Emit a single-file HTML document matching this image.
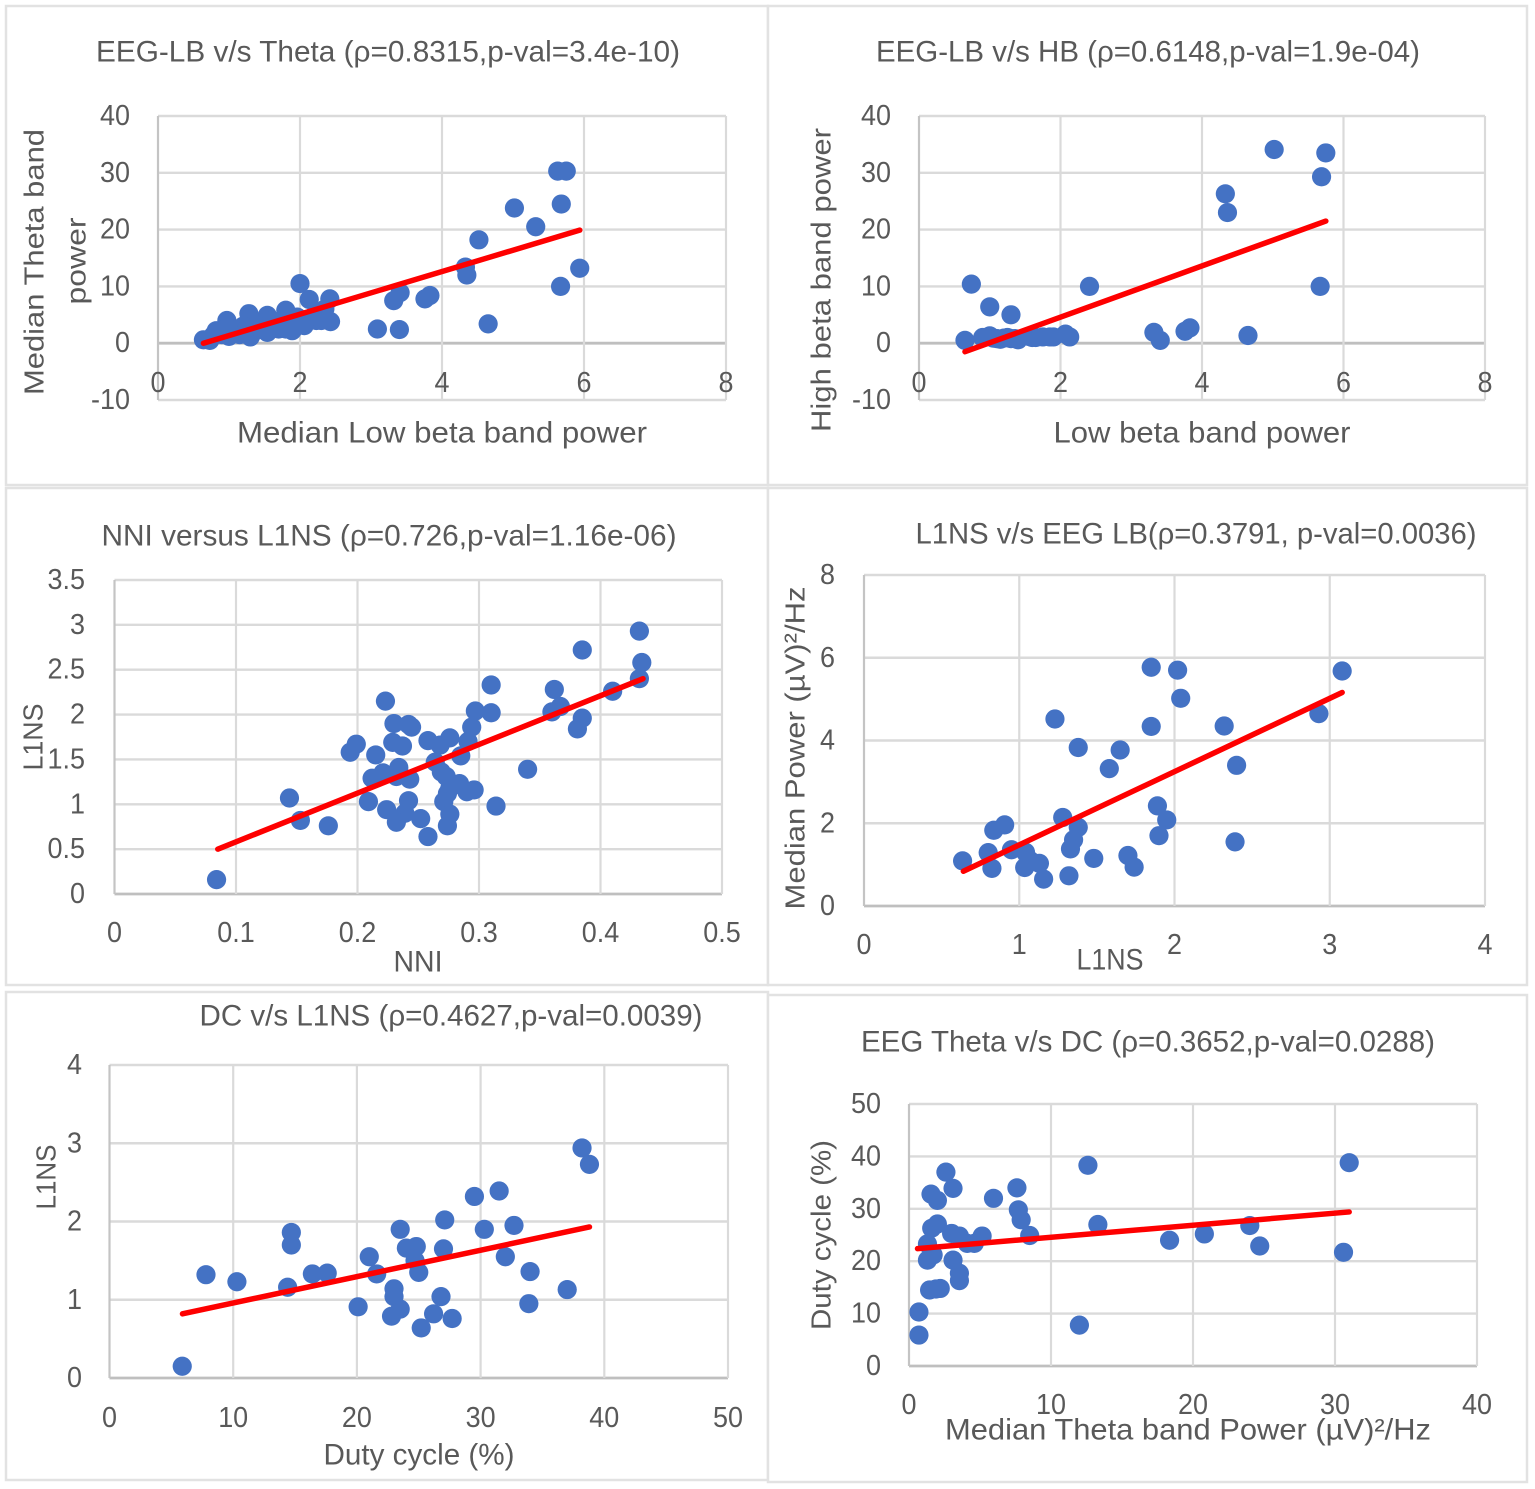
<!DOCTYPE html>
<html lang="en">
<head>
<meta charset="utf-8">
<title>EEG and L1NS correlation scatter charts</title>
<style>
html,body{margin:0;padding:0;background:#fff;width:1535px;height:1489px;overflow:hidden}
svg{display:block}
text{font-family:"Liberation Sans",sans-serif;fill:#595959}
.title{font-size:30px;text-anchor:middle;dominant-baseline:central}
.axt{font-size:30px;text-anchor:middle;dominant-baseline:central}
.axr{font-size:28px;text-anchor:middle;dominant-baseline:central}
.frame{fill:#fff;stroke:#e2e2e2;stroke-width:2.5}
.tick{font-size:29px;dominant-baseline:central}
</style>
</head>
<body>
<svg id="figure" width="1535" height="1489" viewBox="0 0 1535 1489" xmlns="http://www.w3.org/2000/svg">
  <g id="chart1">
    <rect class="frame" x="6" y="6" width="762" height="479"/>
    <text class="title" x="388" y="52" textLength="584" lengthAdjust="spacingAndGlyphs">EEG-LB v/s Theta (ρ=0.8315,p-val=3.4e-10)</text>
    <text class="axt" x="442" y="433" textLength="410" lengthAdjust="spacingAndGlyphs">Median Low beta band power</text>
    <text class="axr" transform="translate(34,262) rotate(-90)" textLength="266" lengthAdjust="spacingAndGlyphs">Median Theta band</text>
    <text class="axr" transform="translate(76,261) rotate(-90)" textLength="87" lengthAdjust="spacingAndGlyphs">power</text>
  </g>
  <g id="chart2">
    <rect class="frame" x="768" y="6" width="759" height="479"/>
    <text class="title" x="1148" y="52" textLength="544" lengthAdjust="spacingAndGlyphs">EEG-LB v/s HB (ρ=0.6148,p-val=1.9e-04)</text>
    <text class="axt" x="1202" y="433" textLength="297" lengthAdjust="spacingAndGlyphs">Low beta band power</text>
    <text class="axr" transform="translate(821,280) rotate(-90)" textLength="304" lengthAdjust="spacingAndGlyphs">High beta band power</text>
  </g>
  <g id="chart3">
    <rect class="frame" x="6" y="488" width="762" height="497"/>
    <text class="title" x="389" y="536" textLength="575" lengthAdjust="spacingAndGlyphs">NNI versus L1NS (ρ=0.726,p-val=1.16e-06)</text>
    <text class="axt" x="418" y="962" textLength="49" lengthAdjust="spacingAndGlyphs">NNI</text>
    <text class="axr" transform="translate(33,737) rotate(-90)" textLength="67" lengthAdjust="spacingAndGlyphs">L1NS</text>
  </g>
  <g id="chart4">
    <rect class="frame" x="768" y="488" width="759" height="497"/>
    <text class="title" x="1196" y="534" textLength="561" lengthAdjust="spacingAndGlyphs">L1NS v/s EEG LB(ρ=0.3791, p-val=0.0036)</text>
    <text class="axt" x="1110" y="960" textLength="67" lengthAdjust="spacingAndGlyphs">L1NS</text>
    <text class="axr" transform="translate(795,748) rotate(-90)" textLength="323" lengthAdjust="spacingAndGlyphs">Median Power (µV)²/Hz</text>
  </g>
  <g id="chart5">
    <rect class="frame" x="6" y="992" width="762" height="488"/>
    <text class="title" x="451" y="1016" textLength="503" lengthAdjust="spacingAndGlyphs">DC v/s L1NS (ρ=0.4627,p-val=0.0039)</text>
    <text class="axt" x="419" y="1455" textLength="191" lengthAdjust="spacingAndGlyphs">Duty cycle (%)</text>
    <text class="axr" transform="translate(46,1177) rotate(-90)" textLength="65" lengthAdjust="spacingAndGlyphs">L1NS</text>
  </g>
  <g id="chart6">
    <rect class="frame" x="768" y="995" width="759" height="487"/>
    <text class="title" x="1148" y="1042" textLength="574" lengthAdjust="spacingAndGlyphs">EEG Theta v/s DC (ρ=0.3652,p-val=0.0288)</text>
    <text class="axt" x="1188" y="1430" textLength="486" lengthAdjust="spacingAndGlyphs">Median Theta band Power (µV)²/Hz</text>
    <text class="axr" transform="translate(821,1235) rotate(-90)" textLength="190" lengthAdjust="spacingAndGlyphs">Duty cycle (%)</text>
  </g>
</svg>
<script>
// Chart 1: EEG-LB v/s Theta
const chart1X = [5.63,5.75,5.68,5.02,5.32,4.52,4.33,4.35,5.94,5.67,4.65,3.4,3.09,3.32,3.41,3.76,3.83,2.0,2.13,2.42,2.43,2.23,2.06,1.89,1.8,1.96,1.54,1.54,1.28,1.3,0.97,0.82,0.64,0.73,1.0,1.1,1.2,1.4,1.5,1.65,1.75,1.85,1.9,2.1,1.15,0.9,1.35,1.6,1.7,0.78,0.95,2.3,2.3,2.2,2.35,1.45,1.25,1.55,1.8,2.0];
const chart1Y = [30.3,30.3,24.5,23.8,20.5,18.2,13.4,12,13.2,10,3.4,2.4,2.5,7.5,8.9,7.8,8.4,10.5,7.7,7.8,3.8,4,3.1,2.2,5.8,4.6,4.9,1.9,5.2,1.1,4,2.2,0.6,0.5,1.2,2.4,3,3.2,3.5,3,3.2,3.5,2.5,4,1.5,1.5,2,4,2.5,1.4,2.6,4,5.5,4.8,6,2.5,2.5,3,2.5,3.2];
const chart1TrendX = [0.64,5.94];
const chart1TrendY = [0,19.9];
const chart1XTicks = [0,2,4,6,8];
const chart1YTicks = [-10,0,10,20,30,40];

// Chart 2: EEG-LB v/s HB
const chart2X = [5.02,5.75,5.69,4.33,4.36,5.67,2.41,0.74,1.0,1.3,0.65,4.65,3.83,3.76,3.32,3.41,0.9,1.0,1.05,1.1,1.15,1.2,1.25,1.3,1.4,1.36,1.6,1.65,1.75,1.85,1.9,2.07,2.13,1.55];
const chart2Y = [34.1,33.5,29.3,26.3,23,10,10,10.4,6.4,5,0.5,1.35,2.7,2.1,1.9,0.5,1,1.3,0.9,0.8,0.7,0.9,1,0.8,0.6,0.8,1,1,1.1,1.1,1.1,1.6,1.1,1.2];
const chart2TrendX = [0.65,5.75];
const chart2TrendY = [-1.5,21.5];
const chart2XTicks = [0,2,4,6,8];
const chart2YTicks = [-10,0,10,20,30,40];

// Chart 3: NNI versus L1NS
const chart3X = [0.432,0.385,0.434,0.432,0.41,0.31,0.362,0.367,0.36,0.385,0.381,0.223,0.297,0.31,0.294,0.23,0.242,0.2445,0.229,0.237,0.258,0.276,0.291,0.199,0.194,0.215,0.285,0.268,0.264,0.234,0.221,0.212,0.232,0.243,0.269,0.273,0.284,0.29,0.296,0.276,0.274,0.314,0.34,0.144,0.153,0.176,0.209,0.224,0.242,0.239,0.232,0.252,0.258,0.271,0.276,0.274,0.084];
const chart3Y = [2.93,2.72,2.58,2.4,2.26,2.33,2.28,2.09,2.03,1.96,1.84,2.15,2.04,2.02,1.86,1.9,1.89,1.86,1.69,1.65,1.71,1.74,1.7,1.67,1.58,1.55,1.54,1.66,1.47,1.41,1.35,1.29,1.31,1.28,1.36,1.31,1.23,1.14,1.16,1.18,1.12,0.98,1.39,1.07,0.82,0.76,1.03,0.94,1.04,0.9,0.8,0.84,0.64,1.03,0.89,0.76,0.16];
const chart3TrendX = [0.085,0.435];
const chart3TrendY = [0.5,2.4];
const chart3XTicks = [0,0.1,0.2,0.3,0.4,0.5];
const chart3YTicks = [0,0.5,1,1.5,2,2.5,3,3.5];

// Chart 4: L1NS v/s EEG LB
const chart4X = [1.85,2.02,3.08,2.04,2.93,1.23,1.85,2.32,1.38,1.65,1.58,2.4,1.89,1.95,1.9,2.39,1.28,1.38,1.35,1.33,0.906,0.836,0.8,0.635,0.824,0.95,1.04,1.13,1.035,1.07,1.157,1.32,1.48,1.7,1.74];
const chart4Y = [5.77,5.7,5.68,5.02,4.65,4.52,4.34,4.35,3.83,3.77,3.32,3.4,2.42,2.08,1.7,1.55,2.14,1.9,1.6,1.38,1.96,1.83,1.29,1.09,0.91,1.36,1.3,1.03,0.93,1.1,0.65,0.73,1.15,1.22,0.94];
const chart4TrendX = [0.64,3.08];
const chart4TrendY = [0.84,5.16];
const chart4XTicks = [0,1,2,3,4];
const chart4YTicks = [0,2,4,6,8];

// Chart 5: DC v/s L1NS
const chart5X = [5.88,7.8,10.3,14.4,14.7,14.7,16.4,17.6,20.1,21,21.6,22.8,23,23,23.5,23.5,24,24.8,24.7,25,25.2,26.2,26.8,27,27.1,27.7,29.5,30.3,31.5,32,32.7,34,33.9,37,38.2,38.8];
const chart5Y = [0.15,1.32,1.23,1.16,1.86,1.7,1.33,1.34,0.91,1.55,1.33,0.79,1.14,1.04,0.88,1.9,1.66,1.68,1.5,1.35,0.64,0.82,1.04,1.65,2.02,0.76,2.32,1.9,2.39,1.55,1.95,1.36,0.95,1.13,2.94,2.73];
const chart5TrendX = [5.9,38.8];
const chart5TrendY = [0.82,1.93];
const chart5XTicks = [0,10,20,30,40,50];
const chart5YTicks = [0,1,2,3,4];

// Chart 6: EEG Theta v/s DC
const chart6X = [0.7,0.7,12,1.45,1.9,2.2,3.55,3.55,3.1,1.3,1.7,1.3,1.6,2,1.55,2,2.6,3.1,3,3.55,4.1,4.6,5.15,5.95,7.6,7.7,7.9,8.5,12.6,13.3,18.35,20.8,24,24.7,30.6,31];
const chart6Y = [5.9,10.3,7.8,14.5,14.7,14.8,16.3,17.7,20.2,20.2,21.2,23.3,26.3,27.1,32.8,31.6,37,33.9,25.3,24.8,23.4,23.4,24.8,32,34,29.8,27.9,24.9,38.3,27,24,25.2,26.8,22.9,21.7,38.8];
const chart6TrendX = [0.6,31];
const chart6TrendY = [22.4,29.4];
const chart6XTicks = [0,10,20,30,40];
const chart6YTicks = [0,10,20,30,40,50];

const NS = 'http://www.w3.org/2000/svg';

function make(tag, attrs, parent) {
  const el = document.createElementNS(NS, tag);
  for (const k in attrs) el.setAttribute(k, attrs[k]);
  parent.appendChild(el);
  return el;
}

function squeeze(label) {
  const width = label.getComputedTextLength();
  label.setAttribute('textLength', (width * 0.93).toFixed(1));
  label.setAttribute('lengthAdjust', 'spacingAndGlyphs');
}

function drawChart(id, xs, ys, trendX, trendY, xTicks, yTicks, box) {
  const root = document.getElementById(id);
  const xMin = xTicks[0], xMax = xTicks[xTicks.length - 1];
  const yMin = yTicks[0], yMax = yTicks[yTicks.length - 1];
  const sx = v => box.l + (v - xMin) / (xMax - xMin) * (box.r - box.l);
  const sy = v => box.b - (v - yMin) / (yMax - yMin) * (box.b - box.t);

  yTicks.forEach(v => {
    const grid = make('line', {x1: box.l, x2: box.r, y1: sy(v), y2: sy(v), stroke: v === 0 ? '#bfbfbf' : '#dadada', 'stroke-width': v === 0 ? 2.8 : 2.4}, root);
    
    
    const label = make('text', {class: 'tick', x: box.yLabelX, y: sy(v), 'text-anchor': 'end'}, root);
    label.textContent = String(v);
    
    
    squeeze(label);
  });

  xTicks.forEach(v => {
    const grid = make('line', {x1: sx(v), x2: sx(v), y1: box.t, y2: box.b, stroke: v === 0 ? '#c4c4c4' : '#dadada', 'stroke-width': 2.2}, root);
    
    
    const label = make('text', {class: 'tick', x: sx(v), y: box.xLabelY, 'text-anchor': 'middle'}, root);
    label.textContent = String(v);
    
    
    squeeze(label);
  });

  xs.forEach((v, i) => {
    const dot = make('circle', {cx: sx(v), cy: sy(ys[i]), r: 9.6, fill: '#4472c4'}, root);
    
    
  });

  const trend = make('line', {x1: sx(trendX[0]), y1: sy(trendY[0]), x2: sx(trendX[1]), y2: sy(trendY[1]), stroke: '#fe0000', 'stroke-width': 5.5, 'stroke-linecap': 'round'}, root);
  
  
}

drawChart('chart1', chart1X, chart1Y, chart1TrendX, chart1TrendY, chart1XTicks, chart1YTicks, {l:158, r:726, t:116, b:400, yLabelX:130, xLabelY:383});
drawChart('chart2', chart2X, chart2Y, chart2TrendX, chart2TrendY, chart2XTicks, chart2YTicks, {l:919, r:1485, t:116, b:400, yLabelX:891, xLabelY:383});
drawChart('chart3', chart3X, chart3Y, chart3TrendX, chart3TrendY, chart3XTicks, chart3YTicks, {l:114.5, r:722, t:580, b:894, yLabelX:85, xLabelY:933});
drawChart('chart4', chart4X, chart4Y, chart4TrendX, chart4TrendY, chart4XTicks, chart4YTicks, {l:864, r:1485, t:575, b:906, yLabelX:835, xLabelY:945});
drawChart('chart5', chart5X, chart5Y, chart5TrendX, chart5TrendY, chart5XTicks, chart5YTicks, {l:109.5, r:728, t:1065, b:1378, yLabelX:82, xLabelY:1418});
drawChart('chart6', chart6X, chart6Y, chart6TrendX, chart6TrendY, chart6XTicks, chart6YTicks, {l:909, r:1477, t:1104, b:1366, yLabelX:881, xLabelY:1405});
</script>
</body>
</html>
